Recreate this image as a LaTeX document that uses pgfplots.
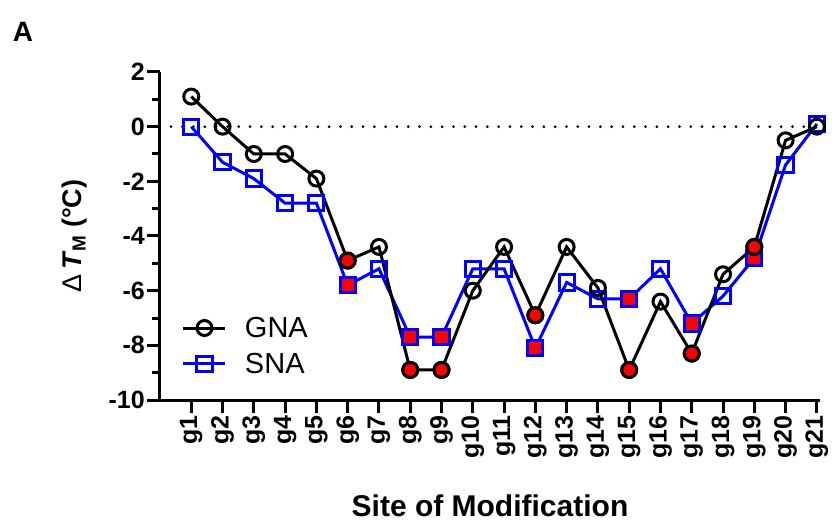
\documentclass[border=0pt]{standalone}
\usepackage{pgfplots}
\pgfplotsset{compat=1.18}
\usepackage{fontspec}
\setmainfont{Liberation Sans}
\definecolor{sblue}{RGB}{0,0,255}
\definecolor{sred}{RGB}{255,0,0}
\begin{document}
\begin{tikzpicture}
\useasboundingbox (-160bp,-121bp) rectangle (675bp,400bp);
\begin{axis}[
 at={(0,0)}, anchor=south west,
 scale only axis, width=660bp, height=328bp,
 xmin=0, xmax=21.1, ymin=-10, ymax=2,
 clip=false,
 axis x line*=bottom, axis y line*=left,
 axis line style={line width=3bp},
 tick align=outside,
 major tick length=13bp, minor tick length=8bp,
 every tick/.style={line width=3bp, black},
 xtick={1,...,21},
 xticklabels={g1,g2,g3,g4,g5,g6,g7,g8,g9,g10,g11,g12,g13,g14,g15,g16,g17,g18,g19,g20,g21},
 xticklabel style={rotate=90, anchor=east, font=\fontsize{25bp}{30bp}\selectfont\bfseries, inner sep=2bp},
 ytick={-10,-8,-6,-4,-2,0,2},
 yticklabels={-10,-8,-6,-4,-2,0,2},
 minor ytick={-9,-7,-5,-3,-1,1},
 yticklabel style={font=\fontsize{25bp}{30bp}\selectfont\bfseries, inner sep=2bp},
 ylabel={\textmd{Δ}\,\textbf{\textit{T}\textsubscript{M} (°C)}},
 ylabel style={at={(axis description cs:-0.13,0.5)}, anchor=center, font=\fontsize{27bp}{30bp}\selectfont},
 xlabel={\textbf{Site of Modification}},
 xlabel style={at={(axis description cs:0.5,-0.322)}, anchor=center, font=\fontsize{30bp}{32bp}\selectfont},
 legend style={at={(rel axis cs:0.033,0.165)}, anchor=west, draw=none, fill=none, inner sep=0pt,
   font=\fontsize{29bp}{30bp}\selectfont, legend cell align=left, row sep=10bp, column sep=16bp},
 legend image code/.code={\draw[mark repeat=2, mark phase=2] plot coordinates {(0bp,0bp)(21bp,0bp)(42bp,0bp)};},
 reverse legend,
]
\addplot[black, line width=3bp, dash pattern=on 0bp off 11.3bp, line cap=round, forget plot] coordinates {(0.35,0) (21.1,0)};
% SNA
\addplot[sblue, line width=3bp, mark=square, mark size=7.6bp, mark options={solid, fill=white}] coordinates {
(1,0) (2,-1.3) (3,-1.9) (4,-2.8) (5,-2.8) (6,-5.8) (7,-5.2) (8,-7.7) (9,-7.7) (10,-5.2)
(11,-5.2) (12,-8.1) (13,-5.7) (14,-6.3) (15,-6.3) (16,-5.2) (17,-7.2) (18,-6.2) (19,-4.8) (20,-1.4) (21,0.1)};
\addlegendentry{SNA}
\addplot[only marks, mark=square*, mark size=7.6bp, mark options={draw=sblue, fill=sred, line width=3bp}, forget plot] coordinates {
(6,-5.8) (8,-7.7) (9,-7.7) (12,-8.1) (15,-6.3) (17,-7.2) (19,-4.8)};
% GNA
\addplot[black, line width=3bp, mark=o, mark size=7.5bp, mark options={solid}] coordinates {
(1,1.1) (2,0) (3,-1) (4,-1) (5,-1.9) (6,-4.9) (7,-4.4) (8,-8.9) (9,-8.9) (10,-6.0)
(11,-4.4) (12,-6.9) (13,-4.4) (14,-5.9) (15,-8.9) (16,-6.4) (17,-8.3) (18,-5.4) (19,-4.4) (20,-0.5) (21,0)};
\addlegendentry{GNA}
\addplot[only marks, mark=*, mark size=7.5bp, mark options={draw=black, fill=sred, line width=3bp}, forget plot] coordinates {
(6,-4.9) (8,-8.9) (9,-8.9) (12,-6.9) (15,-8.9) (17,-8.3) (19,-4.4)};
\end{axis}
\node[anchor=center, font=\fontsize{28bp}{30bp}\selectfont\bfseries] at (-137bp,368bp) {A};
\end{tikzpicture}
\end{document}
